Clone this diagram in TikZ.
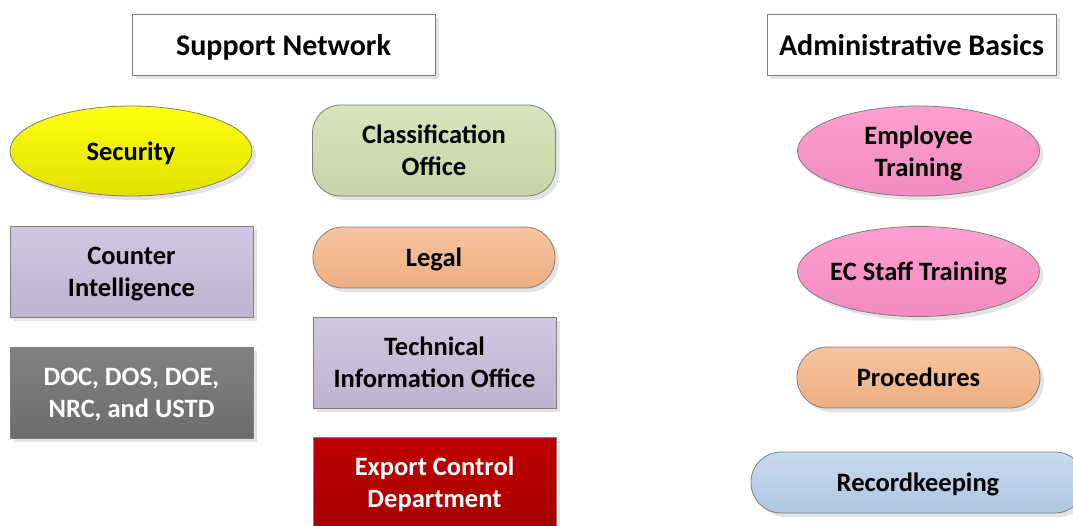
\documentclass[tikz,border=0pt]{standalone}
\usepackage{fontspec}
\setmainfont{Carlito}
\usepackage{tikz}
\usetikzlibrary{shapes.geometric,shadows}

\definecolor{edgegray}{HTML}{7F7F7F}
\begin{document}
\begin{tikzpicture}[x=1pt, y=-1pt,
	every node/.style={font=\fontsize{26.5}{32}\selectfont\bfseries, align=center, draw=edgegray, line width=0.8pt,
		text depth=0pt, general shadow={fill=black!11, shadow xshift=4pt, shadow yshift=-4pt}},
	header/.style={rectangle, fill=white, minimum width=303, minimum height=61, font=\fontsize{30}{36}\selectfont\bfseries},
	oval/.style={ellipse, minimum width=242, minimum height=90, inner sep=0pt},
	card/.style={rectangle, minimum width=243, minimum height=91},
	pill/.style={rectangle, rounded corners=30pt, minimum width=242, minimum height=61},
	yellowfill/.style={top color=yellow!95!white, bottom color=yellow!88!black},
	greenfill/.style={top color={rgb,255:red,217;green,228;blue,190}, bottom color={rgb,255:red,199;green,211;blue,166}},
	lilacfill/.style={top color={rgb,255:red,208;green,199;blue,225}, bottom color={rgb,255:red,190;green,179;blue,208}},
	orangefill/.style={top color={rgb,255:red,247;green,196;blue,160}, bottom color={rgb,255:red,236;green,174;blue,128}},
	grayfill/.style={top color={rgb,255:red,130;green,130;blue,130}, bottom color={rgb,255:red,108;green,108;blue,108}, text=white},
	redfill/.style={top color={rgb,255:red,190;green,0;blue,0}, bottom color={rgb,255:red,168;green,0;blue,0}, text=white},
	pinkfill/.style={top color={rgb,255:red,255;green,160;blue,208}, bottom color={rgb,255:red,240;green,138;blue,192}},
	bluefill/.style={top color={rgb,255:red,200;green,218;blue,240}, bottom color={rgb,255:red,174;green,198;blue,226}}]
\path[use as bounding box, clip] (0,0) rectangle (1073,525);

\node[header] (support) at (283.5,44.5) {Support Network};
\node[header, minimum width=289] (admin) at (911.5,44.5) {Administrative Basics};

\node[oval, yellowfill] (security) at (131,151) {Security};
\node[card, lilacfill] (counter) at (131.5,271.5) {Counter\\Intelligence};
\node[card, grayfill] (agencies) at (131.5,392.5) {DOC, DOS, DOE,\\NRC, and USTD};

\node[card, rounded corners=28pt, greenfill] (classif) at (434,150.5) {Classification\\Office};
\node[pill, orangefill] (legal) at (434,257.5) {Legal};
\node[card, lilacfill] (techinfo) at (434.5,362.5) {Technical\\Information Office};
\node[card, redfill] (export) at (434.5,482.5) {Export Control\\Department};

\node[oval, pinkfill] (employee) at (918.5,151) {Employee\\Training};
\node[oval, pinkfill, inner xsep=-40pt] (ecstaff) at (918.5,271.5) {EC Staff Training};
\node[pill, orangefill, minimum width=243] (procedures) at (918.5,377.5) {Procedures};
\node[pill, bluefill, minimum width=334] (records) at (918,482.5) {Recordkeeping};
\end{tikzpicture}
\end{document}
